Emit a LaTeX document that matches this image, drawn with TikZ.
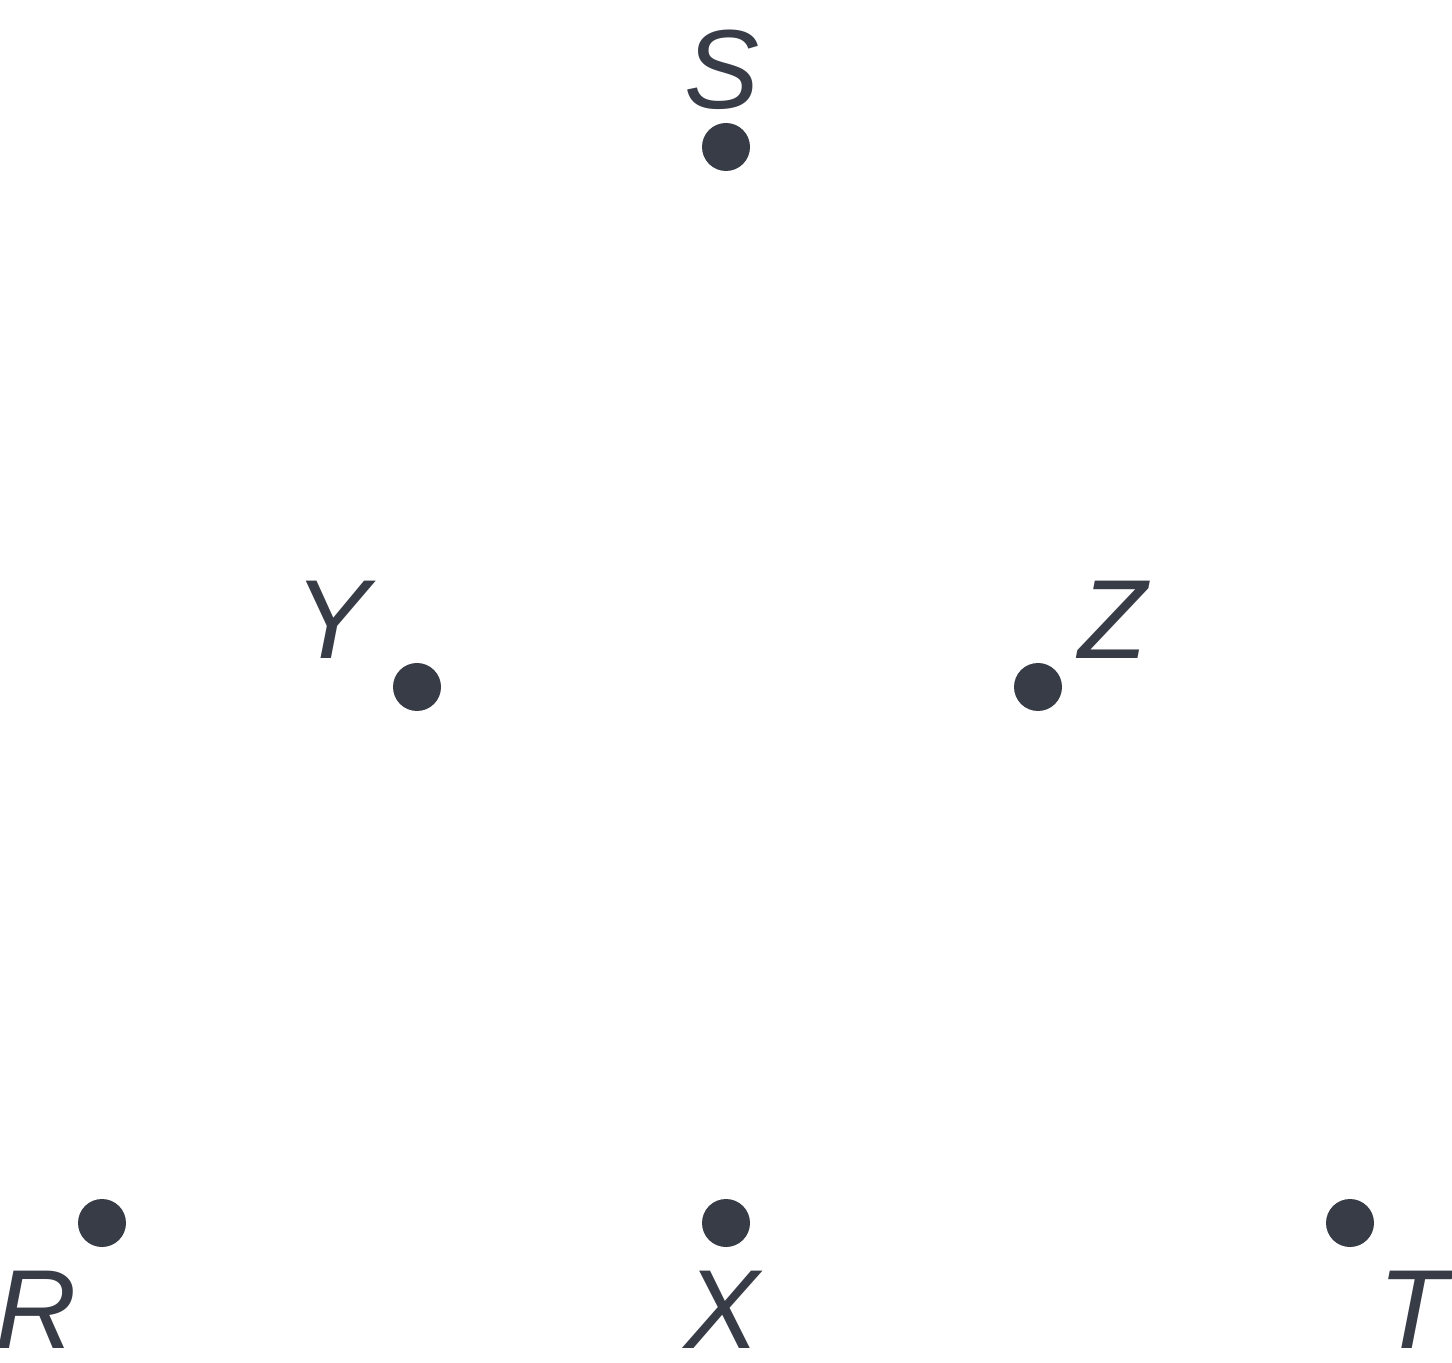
\documentclass[tikz,border=0pt]{standalone}
\usepackage{fontspec}
\setmainfont{Liberation Sans}
\usepackage{tikz}
\definecolor{slate}{RGB}{55,60,71}
\tikzset{dot/.style={circle, fill=slate, inner sep=0pt, minimum size=4.8mm}}
\tikzset{lbl/.style={text=slate, font=\fontsize{32}{35}\selectfont\itshape, inner sep=0pt}}

\begin{document}
\begin{tikzpicture}
					\useasboundingbox (0, 0) rectangle (14.52, 13.62);
					\node[dot] (S) at (7.26, 12.15) {};
					\node[dot] (Y) at (4.17, 6.75) {};
					\node[dot] (Z) at (10.38, 6.75) {};
					\node[dot] (R) at (1.02, 1.39) {};
					\node[dot] (X) at (7.26, 1.39) {};
					\node[dot] (T) at (13.50, 1.39) {};
					\node[lbl] (Slabel) at (7.22, 12.92) {S};
					\node[lbl] (Ylabel) at (3.32, 7.42) {Y};
					\node[lbl] (Zlabel) at (11.13, 7.42) {Z};
					\node[lbl] (Rlabel) at (0.36, 0.52) {R};
					\node[lbl] (Xlabel) at (7.22, 0.52) {X};
					\node[lbl] (Tlabel) at (14.13, 0.52) {T};
				\end{tikzpicture}
\end{document}
